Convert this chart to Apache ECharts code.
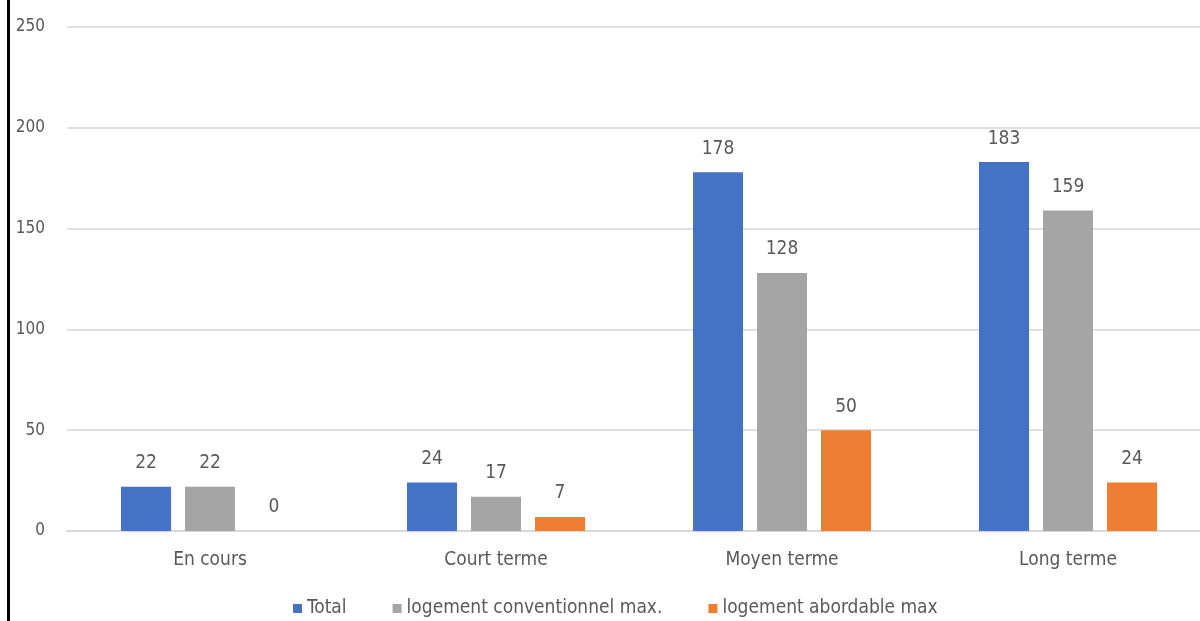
<!DOCTYPE html>
<html>
<head>
<meta charset="utf-8">
<script src="https://cdn.jsdelivr.net/npm/echarts@6/dist/echarts.min.js"></script>
<style>
  html, body { margin: 0; padding: 0; background: #fff; overflow: hidden; }
  #wrap { width: 1200px; height: 621px; position: relative; overflow: hidden; }
  #chart { width: 1212px; height: 621px; position: absolute; left: 0; top: 0; }
  #frame { position: absolute; left: 7px; top: 0; width: 3px; height: 621px; background: #000; }
</style>
</head>
<body>
<div id="wrap">
  <div id="chart"></div>
  <div id="frame"></div>
</div>
<script>
// Housing projects by time horizon
const categories = ['En cours', 'Court terme', 'Moyen terme', 'Long terme'];
const seriesNames = ['Total', 'logement conventionnel max.', 'logement abordable max'];
const totalValues = [22, 24, 178, 183];
const conventionnelValues = [22, 17, 128, 159];
const abordableValues = [0, 7, 50, 24];
const yTicks = [0, 50, 100, 150, 200, 250];

const colors = ['#4472C4', '#A5A5A5', '#ED7D31'];
const fontFamily = '"DejaVu Sans Condensed", "Liberation Sans Narrow", "Liberation Sans", sans-serif';
const textColor = '#595959';

const chart = echarts.init(document.getElementById('chart'));

const makeSeries = (name, data, color) => ({
  name: name,
  type: 'bar',
  data: data,
  barWidth: 50,
  barGap: '28%',
  itemStyle: { color: color },
  label: {
    show: true,
    position: 'top',
    distance: 14,
    color: textColor,
    fontSize: 19,
    fontFamily: fontFamily
  }
});

chart.setOption({
  animation: false,
  color: colors,
  grid: { left: 67, right: 1, top: 27, bottom: 90, containLabel: false },
  legend: {
    bottom: -2,
    left: 288,
    itemWidth: 9,
    itemHeight: 9,
    itemGap: 46,
    icon: 'rect',
    textStyle: { color: textColor, fontSize: 19, fontFamily: fontFamily },
    data: seriesNames
  },
  xAxis: {
    type: 'category',
    data: categories,
    axisLine: { show: true, lineStyle: { color: '#d9d9d9', width: 2 } },
    axisTick: { show: false },
    axisLabel: { color: textColor, fontSize: 19, fontFamily: fontFamily, margin: 20 }
  },
  yAxis: {
    type: 'value',
    min: yTicks[0],
    max: yTicks[yTicks.length - 1],
    interval: yTicks[1] - yTicks[0],
    axisLine: { show: false },
    axisTick: { show: false },
    splitLine: { lineStyle: { color: '#e0e0e0', width: 2 } },
    axisLabel: { color: textColor, fontSize: 17, fontFamily: fontFamily, margin: 22 }
  },
  series: [
    makeSeries(seriesNames[0], totalValues, colors[0]),
    makeSeries(seriesNames[1], conventionnelValues, colors[1]),
    makeSeries(seriesNames[2], abordableValues, colors[2])
  ]
});
</script>
</body>
</html>
